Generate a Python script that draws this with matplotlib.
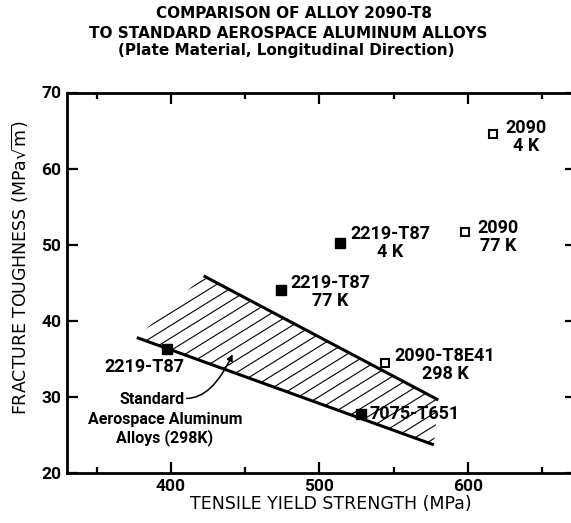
import numpy as np
import matplotlib
matplotlib.use("Agg")
import matplotlib.pyplot as plt
from matplotlib.patches import Polygon
from matplotlib.ticker import MultipleLocator

# ---------------------------------------------------------------------------
# Data: tensile yield strength (MPa) vs. fracture toughness (MPa sqrt(m))
# ---------------------------------------------------------------------------
alloy_2090_names = ["2090\n4 K", "2090\n77 K", "2090-T8E41\n298 K"]
alloy_2090_strength = [617, 598, 544]
alloy_2090_toughness = [64.5, 51.7, 34.5]

std_names = ["2219-T87\n4 K", "2219-T87\n77 K", "2219-T87", "7075-T651"]
std_strength = [514, 474, 397, 528]
std_toughness = [50.2, 44.0, 36.3, 27.8]

# label offsets (points) and alignment for each point
offs_2090 = [(9, -2), (9, -4), (7, -2)]
offs_std = [(7, 0), (7, -1), (-16, -13), (6, 0)]
ha_std = ["left", "left", "center", "left"]

# band of standard aerospace aluminum alloys at 298 K
band_upper_x = [422, 580]
band_upper_y = [45.9, 29.6]
band_lower_x = [377, 577]
band_lower_y = [37.8, 23.7]

FONT = ["Roboto", "DejaVu Sans"]
plt.rcParams["font.family"] = FONT

fig = plt.figure(figsize=(5.71, 5.23), dpi=100)
ax = fig.add_axes([67 / 571, 50 / 523, 509 / 571, 380.5 / 523])

ax.set_xlim(330, 672.7)
ax.set_ylim(20, 70)

# hatched band: parallel lines clipped to the band outline
verts = [(band_upper_x[0], band_upper_y[0]), (band_upper_x[1], band_upper_y[1]),
         (band_lower_x[1], band_lower_y[1]), (band_lower_x[0], band_lower_y[0])]
clip = Polygon(verts, closed=True, facecolor="none", edgecolor="none",
               transform=ax.transData)
ax.add_patch(clip)
slope, step = 0.121, 1.65
vx = np.array([v[0] for v in verts])
vy = np.array([v[1] for v in verts])
cs = vy - slope * vx
hx = np.array([vx.min() - 5, vx.max() + 5])
for c in np.arange(cs.min() + step / 2, cs.max(), step):
    ln, = ax.plot(hx, slope * hx + c, color="black", lw=0.8, solid_capstyle="butt")
    ln.set_clip_path(clip)

ax.plot(band_upper_x, band_upper_y, color="black", lw=2.2, solid_capstyle="butt")
ax.plot(band_lower_x, band_lower_y, color="black", lw=2.2, solid_capstyle="butt")

# markers
ax.plot(std_strength, std_toughness, "s", ms=7, color="black", mec="black",
        linestyle="none", zorder=5)
ax.plot(alloy_2090_strength, alloy_2090_toughness, "s", ms=6, mfc="white",
        mec="black", mew=1.5, linestyle="none", zorder=5)

lab_kw = dict(textcoords="offset points", fontsize=13, fontweight="bold",
              va="center", multialignment="center", linespacing=1.0)
for name, x, y, off in zip(alloy_2090_names, alloy_2090_strength,
                           alloy_2090_toughness, offs_2090):
    ax.annotate(name, (x, y), xytext=off, ha="left", **lab_kw)
for name, x, y, off, ha in zip(std_names, std_strength, std_toughness,
                               offs_std, ha_std):
    ax.annotate(name, (x, y), xytext=off, ha=ha, **lab_kw)

# band description with leader arrow
ax.text(409.4, 29.7, "Standard", ha="right", va="center", fontsize=11.5,
        fontweight="bold")
ax.text(396, 25.8, "Aerospace Aluminum\nAlloys (298K)", ha="center",
        va="center", fontsize=11.5, fontweight="bold", linespacing=1.15)
ax.annotate("", xy=(441.5, 35.6), xytext=(410.5, 29.8),
            arrowprops=dict(arrowstyle="-|>", color="black", lw=1.1,
                            mutation_scale=9, shrinkA=0, shrinkB=0,
                            connectionstyle="angle3,angleA=0,angleB=65"))

# axes styling
for sp in ax.spines.values():
    sp.set_linewidth(2.0)
ax.xaxis.set_major_locator(MultipleLocator(100))
ax.xaxis.set_minor_locator(MultipleLocator(50))
ax.yaxis.set_major_locator(MultipleLocator(10))
ax.tick_params(axis="both", which="major", direction="in", length=8, width=1.6,
               top=True, right=True, labelsize=12.5, pad=4)
ax.tick_params(axis="x", which="minor", direction="in", length=4.5, width=1.6,
               top=True)
ax.tick_params(axis="x", which="major", pad=4)
for lbl in ax.get_xticklabels() + ax.get_yticklabels():
    lbl.set_fontweight("bold")

ax.set_xlabel("TENSILE YIELD STRENGTH (MPa)", fontsize=12.5,
              family="DejaVu Sans")
ax.set_ylabel(r"FRACTURE TOUGHNESS (MPa$\sqrt{\mathrm{m}}$)", fontsize=12.5,
              family="DejaVu Sans")
ax.xaxis.set_label_coords(0.519, -0.058)
ax.yaxis.set_label_coords(-0.07, 0.54)

# title block
title_kw = dict(ha="center", va="center", fontsize=11, fontweight="bold",
                family="DejaVu Sans")
fig.text(0.515, 1 - 13.5 / 523, "COMPARISON OF ALLOY 2090-T8", **title_kw)
fig.text(0.504, 1 - 33 / 523, "TO STANDARD AEROSPACE ALUMINUM ALLOYS",
         **title_kw)
fig.text(0.502, 1 - 50 / 523, "(Plate Material, Longitudinal Direction)",
         **title_kw)

fig.savefig("out.png", dpi=100)
